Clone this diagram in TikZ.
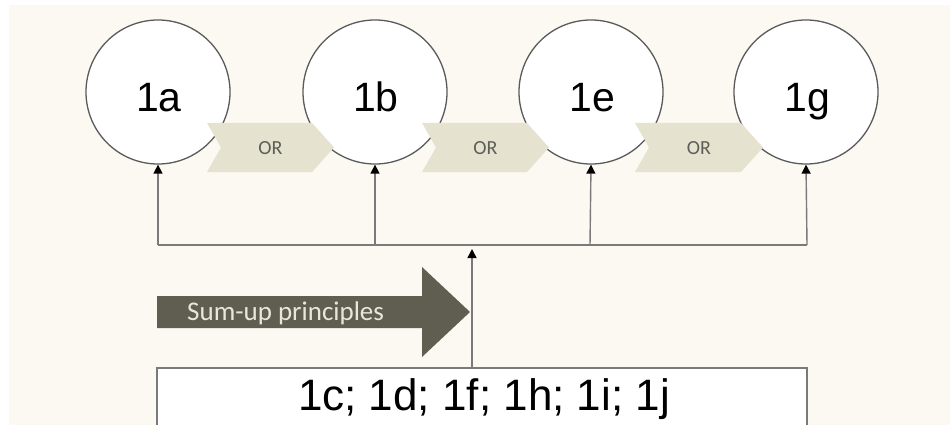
\documentclass[tikz,border=0pt]{standalone}
\usepackage{fontspec}
\setmainfont{Liberation Sans}
\newfontfamily\calib{Carlito}
\usetikzlibrary{arrows.meta}
\definecolor{paper}{HTML}{FCF8F2}
\definecolor{ringline}{HTML}{5A5A5A}
\definecolor{wireline}{HTML}{7A7A7A}
\definecolor{chevfill}{HTML}{E5E3D0}
\definecolor{chevtext}{HTML}{5E5E58}
\definecolor{bigarrow}{HTML}{605E51}
\definecolor{bigtext}{HTML}{E9E6DC}
\tikzset{
  ring/.style={circle, draw=ringline, line width=1.3pt, fill=white,
    minimum size=144pt, inner sep=0pt},
  ringlabel/.style={font=\fontsize{41}{41}\selectfont, inner sep=0pt, anchor=base},
  wire/.style={draw=wireline, line width=1.4pt},
  uparrow/.style={wire, -{Triangle[width=9pt,length=9pt,black]}},
  chev/.style={fill=chevfill, draw=none},
  chevlabel/.style={font=\calib\fontsize{20}{20}\selectfont, text=chevtext, inner sep=0pt},
  listbox/.style={draw=wireline, line width=1.4pt, fill=white},
}
\begin{document}
\begin{tikzpicture}[x=1pt, y=-1pt]
  % page and cream backdrop
  \useasboundingbox (0,0) rectangle (950,425);
  \fill[white] (0,0) rectangle (950,425);
  \fill[paper] (9,5) rectangle (950,425);

  % junction points of the collecting bar
  \coordinate (ja) at (158,245);
  \coordinate (jb) at (375,245);
  \coordinate (je) at (590,245);
  \coordinate (jg) at (807,245);
  \coordinate (hub) at (472,249);

  % option circles
  \node[ring] (a1) at (158,92) {};
  \node[ring] (b1) at (375,92) {};
  \node[ring] (e1) at (591,92) {};
  \node[ring] (g1) at (806,92) {};

  % OR chevrons between the circles
  \foreach \L/\R/\nm in {207/334/ora, 422/549/orb, 635/763/orc}{
    \fill[chev] (\L,123) -- (\R-22,123) -- (\R,147.5) -- (\R-22,172)
      -- (\L,172) -- (\L+14,147.5) -- cycle;
    \node[chevlabel] (\nm) at ({(\L+\R)/2},148) {OR};
  }

  % circle labels
  \node[ringlabel] (ta) at (159,112) {1a};
  \node[ringlabel] (tb) at (376,112) {1b};
  \node[ringlabel] (te) at (592,112) {1e};
  \node[ringlabel] (tg) at (807,112) {1g};

  % collecting bar and the arrows up to each circle
  \draw[wire] (ja) -- (jg);
  \draw[uparrow] (ja) -- (a1.south);
  \draw[uparrow] (jb) -- (b1.south);
  \draw[uparrow] (je) -- (e1.south);
  \draw[uparrow] (jg) -- (g1.south);

  % big block arrow
  \fill[bigarrow] (157,296) -- (422,296) -- (422,267) -- (470,312)
    -- (422,357) -- (422,328) -- (157,328) -- cycle;
  \node[font=\calib\fontsize{27}{27}\selectfont, text=bigtext, inner sep=0pt,
    anchor=west] (sumup) at (187,313) {Sum-up principles};

  % list box at the bottom
  \path[listbox] (157,368) rectangle (807,440);
  \node[inner sep=0pt, anchor=base, font=\fontsize{44}{44}\selectfont] (box)
    at (484,410) {1c; 1d; 1f; 1h; 1i; 1j};
  \coordinate (boxtop) at (472,368);

  % arrow from the list up to the bar
  \draw[uparrow] (boxtop) -- (hub);
\end{tikzpicture}
\end{document}
